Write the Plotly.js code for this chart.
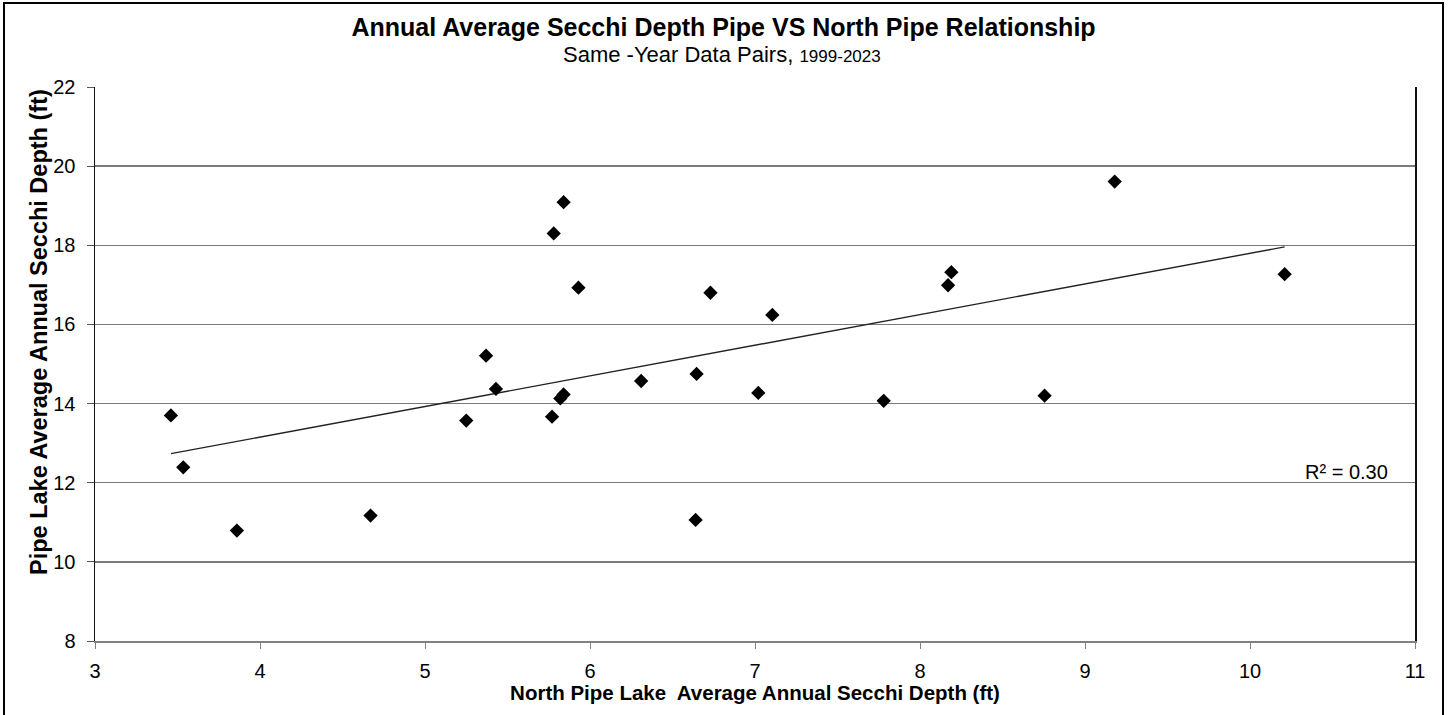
<!DOCTYPE html>
<html>
<head>
<meta charset="utf-8">
<script src="https://cdn.plot.ly/plotly-3.0.1.min.js"></script>
<style>
  html, body { margin: 0; padding: 0; background: #ffffff; }
  #chart { width: 1450px; height: 715px; }
</style>
</head>
<body>
<div id="chart"></div>
<script>
// North Pipe Lake average annual Secchi depth (ft), same-year pairs 1999-2023
const northPipeDepth = [3.46, 3.535, 3.86, 4.67, 5.25, 5.37, 5.43, 5.77, 5.78, 5.82, 5.84, 5.84, 5.93,
                        6.31, 6.64, 6.646, 6.73, 7.02, 7.105, 7.78, 8.17, 8.19, 8.755, 9.18, 10.21];
// Pipe Lake average annual Secchi depth (ft)
const pipeDepth = [13.70, 12.39, 10.79, 11.17, 13.57, 15.21, 14.37, 13.67, 18.30, 14.13, 14.23, 19.09, 16.93,
                   14.57, 11.06, 14.75, 16.80, 14.27, 16.24, 14.07, 16.99, 17.32, 14.20, 19.61, 17.27];

const xTicks = [3, 4, 5, 6, 7, 8, 9, 10, 11];
const yTicks = [8, 10, 12, 14, 16, 18, 20, 22];

const chartTitle = "Annual Average Secchi Depth Pipe VS North Pipe Relationship";
const subtitleMain = "Same -Year Data Pairs, ";
const subtitleYears = "1999-2023";
const xTitle = "North Pipe Lake  Average Annual Secchi Depth (ft)";
const yTitle = "Pipe Lake Average Annual Secchi Depth (ft)";
const rSquaredLabel = "R² = 0.30";

// linear least-squares trendline computed from the data
const n = northPipeDepth.length;
const mx = northPipeDepth.reduce((a, b) => a + b, 0) / n;
const my = pipeDepth.reduce((a, b) => a + b, 0) / n;
let sxy = 0, sxx = 0;
for (let i = 0; i < n; i++) {
  sxy += (northPipeDepth[i] - mx) * (pipeDepth[i] - my);
  sxx += (northPipeDepth[i] - mx) ** 2;
}
const slope = sxy / sxx;
const intercept = my - slope * mx;
const xMin = Math.min(...northPipeDepth), xMax = Math.max(...northPipeDepth);
const trendX = [xMin, xMax];
const trendY = trendX.map(v => intercept + slope * v);

const FONT = "Liberation Sans, Arial, sans-serif";
const L = 95, R = 1415, T = 87, B = 641;          // plot-area pixel box
const px = p => (p - L) / (R - L);                  // pixel x -> paper x
const py = p => (B - p) / (B - T);                  // pixel y -> paper y

const traces = [
  {
    x: trendX, y: trendY, type: "scatter", mode: "lines",
    line: { color: "#222222", width: 1.4 },
    hoverinfo: "skip", showlegend: false
  },
  {
    x: northPipeDepth, y: pipeDepth, type: "scatter", mode: "markers",
    marker: { symbol: "diamond", size: 11, color: "#000000" },
    showlegend: false
  }
];

const layout = {
  width: 1450, height: 715,
  margin: { l: L, r: 1450 - R, t: T, b: 715 - B, pad: 0 },
  paper_bgcolor: "#ffffff", plot_bgcolor: "#ffffff",
  font: { family: FONT, color: "#000000", size: 20 },
  showlegend: false,
  title: {
    text: "<b>" + chartTitle + "</b>",
    font: { family: FONT, size: 25, color: "#000000" },
    x: 0.499, xref: "container", xanchor: "center",
    y: 1 - 27 / 715, yref: "container", yanchor: "middle"
  },
  xaxis: {
    range: [3, 11], tickvals: xTicks, ticktext: xTicks.map(String),
    showgrid: false, zeroline: false,
    showline: true, linecolor: "#808080", linewidth: 1.5,
    ticks: "outside", ticklen: 6, tickcolor: "#808080", tickwidth: 1,
    ticklabelstandoff: 5,
    tickfont: { family: FONT, size: 20, color: "#000000" },
    title: { text: "<b>" + xTitle + "</b>", font: { family: FONT, size: 20.5, color: "#000000" }, standoff: 4 },
    automargin: false, fixedrange: true
  },
  yaxis: {
    range: [8, 22], tickvals: yTicks, ticktext: yTicks.map(String),
    showgrid: true, gridcolor: "#7a7a7a", gridwidth: 1.5, zeroline: false,
    showline: true, linecolor: "#111111", linewidth: 1.5, mirror: true,
    ticks: "outside", ticklen: 7, tickcolor: "#555555", tickwidth: 1,
    ticklabelstandoff: 7,
    tickfont: { family: FONT, size: 20, color: "#000000" },
    automargin: false, fixedrange: true
  },
  annotations: [
    {
      text: subtitleMain + "<span style='font-size:17px'>" + subtitleYears + "</span>",
      xref: "paper", yref: "paper",
      x: px(722), y: py(54),
      xanchor: "center", yanchor: "middle", showarrow: false,
      font: { family: FONT, size: 22, color: "#000000" }
    },
    {
      text: "<b>" + yTitle + "</b>",
      xref: "paper", yref: "paper",
      x: px(39), y: py(332), textangle: -90,
      xanchor: "center", yanchor: "middle", showarrow: false,
      font: { family: FONT, size: 23.5, color: "#000000" }
    },
    {
      text: rSquaredLabel, xref: "x", yref: "y",
      x: 10.583, y: 12.28, xanchor: "center", yanchor: "middle", showarrow: false,
      font: { family: FONT, size: 20, color: "#000000" }
    }
  ],
  shapes: [
    {
      type: "rect", xref: "paper", yref: "paper",
      x0: px(4), x1: px(1443), y0: py(730), y1: py(3),
      line: { color: "#000000", width: 2 }, fillcolor: "rgba(0,0,0,0)", layer: "below"
    }
  ]
};

Plotly.newPlot("chart", traces, layout, { staticPlot: true, displayModeBar: false });
</script>
</body>
</html>
